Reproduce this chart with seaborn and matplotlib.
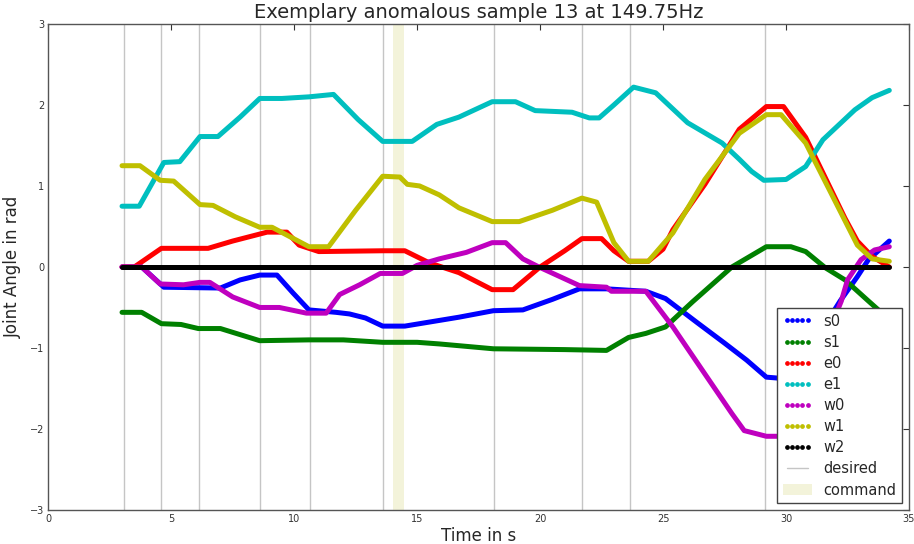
import numpy as np
import pandas as pd
import matplotlib
matplotlib.use('Agg')
import matplotlib.pyplot as plt
import seaborn as sns
from matplotlib.lines import Line2D
from matplotlib.patches import Patch

# ── Joint angle keypoints (time in s, angle in rad) ──
s0_t = [3.0, 3.8, 4.7, 7.0, 7.8, 8.6, 9.3, 9.95, 10.6, 11.7, 12.25, 12.9, 13.6, 14.5, 15.9,
        16.7, 18.1, 19.3, 20.5, 21.6, 22.7, 24.3, 25.1, 26.4, 27.5, 28.4, 29.2, 30.0, 31.0,
        32.2, 32.9, 33.35, 34.2]
s0_v = [0.0, 0.0, -0.25, -0.26, -0.16, -0.1, -0.1, -0.32, -0.53, -0.56, -0.58, -0.63, -0.73,
        -0.73, -0.66, -0.62, -0.54, -0.53, -0.4, -0.27, -0.27, -0.3, -0.39, -0.69, -0.94,
        -1.15, -1.36, -1.38, -1.0, -0.42, -0.12, 0.09, 0.32]

s1_t = [3.0, 3.8, 4.6, 5.4, 6.1, 7.0, 8.6, 10.6, 12.0, 13.6, 15.0, 15.9, 18.1, 21.0, 22.7,
        23.6, 24.3, 25.1, 26.2, 27.8, 29.2, 30.2, 30.8, 31.6, 32.4, 33.35, 34.2]
s1_v = [-0.56, -0.56, -0.7, -0.71, -0.76, -0.76, -0.91, -0.9, -0.9, -0.93, -0.93, -0.95,
        -1.01, -1.02, -1.03, -0.87, -0.82, -0.74, -0.43, 0.0, 0.25, 0.25, 0.19, -0.01,
        -0.16, -0.42, -0.65]

e0_t = [3.0, 3.5, 4.6, 6.5, 7.5, 8.9, 9.7, 10.2, 11.0, 13.6, 14.5, 15.5, 16.7, 18.05, 18.9,
        20.0, 21.0, 21.7, 22.5, 23.0, 23.6, 24.4, 25.0, 25.4, 26.7, 28.1, 29.2, 29.9, 30.8,
        31.6, 32.4, 32.9, 33.5, 34.2]
e0_v = [0.0, 0.0, 0.23, 0.23, 0.32, 0.43, 0.43, 0.27, 0.19, 0.2, 0.2, 0.05, -0.07, -0.28,
        -0.28, 0.0, 0.2, 0.35, 0.35, 0.2, 0.07, 0.07, 0.22, 0.46, 1.02, 1.7, 1.98, 1.98, 1.6,
        1.1, 0.6, 0.32, 0.13, 0.0]

e1_t = [3.0, 3.7, 4.7, 5.35, 6.17, 6.9, 7.8, 8.6, 9.5, 10.6, 11.6, 12.6, 13.6, 14.8, 15.8,
        16.7, 18.05, 19.0, 19.8, 21.3, 22.0, 22.4, 23.0, 23.8, 24.7, 26.0, 27.4, 28.1, 28.6,
        29.1, 30.0, 30.8, 31.5, 32.8, 33.5, 34.2]
e1_v = [0.75, 0.75, 1.29, 1.3, 1.61, 1.61, 1.85, 2.08, 2.08, 2.1, 2.13, 1.82, 1.55, 1.55,
        1.76, 1.85, 2.04, 2.04, 1.93, 1.91, 1.84, 1.84, 2.0, 2.22, 2.15, 1.78, 1.53, 1.33,
        1.18, 1.07, 1.08, 1.24, 1.57, 1.94, 2.09, 2.18]

w0_t = [3.0, 3.8, 4.55, 5.5, 6.17, 6.57, 7.5, 8.6, 9.4, 10.5, 11.3, 11.85, 12.66, 13.5, 14.4,
        15.0, 15.9, 17.0, 18.05, 18.6, 19.3, 19.95, 21.6, 22.7, 22.9, 24.3, 25.4, 26.7, 27.8,
        28.3, 29.2, 29.7, 30.3, 31.2, 32.25, 32.5, 33.05, 33.6, 34.2]
w0_v = [0.0, 0.0, -0.21, -0.22, -0.19, -0.19, -0.37, -0.5, -0.5, -0.57, -0.57, -0.34, -0.22,
        -0.08, -0.08, 0.02, 0.1, 0.18, 0.3, 0.3, 0.1, 0.0, -0.23, -0.25, -0.3, -0.3, -0.74,
        -1.32, -1.81, -2.02, -2.09, -2.09, -1.9, -1.2, -0.42, -0.16, 0.09, 0.21, 0.25]

w1_t = [3.0, 3.73, 4.55, 5.1, 6.17, 6.7, 7.6, 8.6, 9.1, 10.6, 11.4, 12.5, 13.6, 14.3, 14.6,
        15.1, 15.9, 16.7, 18.05, 19.15, 20.5, 21.7, 22.3, 23.0, 23.6, 24.4, 25.4, 26.7, 28.1,
        29.2, 29.8, 30.8, 31.6, 32.1, 32.9, 33.5, 34.2]
w1_v = [1.25, 1.25, 1.07, 1.06, 0.77, 0.76, 0.62, 0.49, 0.49, 0.25, 0.25, 0.7, 1.12, 1.11,
        1.02, 1.0, 0.89, 0.73, 0.56, 0.56, 0.7, 0.85, 0.8, 0.3, 0.07, 0.07, 0.42, 1.08, 1.65,
        1.88, 1.88, 1.53, 1.05, 0.75, 0.27, 0.1, 0.07]

w2_t = [3.0, 34.2]
w2_v = [0.0, 0.0]

joints = ['s0', 's1', 'e0', 'e1', 'w0', 'w1', 'w2']
# klasik matplotlib tek harfli renkler (seaborn bunları değiştirmesin diye RGB)
colors = [(0, 0, 1), (0, 0.5, 0), (1, 0, 0), (0, 0.75, 0.75),
          (0.75, 0, 0.75), (0.75, 0.75, 0), (0, 0, 0)]

desired_t = [3.1, 4.6, 6.13, 8.61, 10.63, 13.6, 18.12, 21.69, 23.66, 29.16]
command_start, command_end = 14.01, 14.46

# ── Long-form table for seaborn ──
series = {
    's0': (s0_t, s0_v), 's1': (s1_t, s1_v), 'e0': (e0_t, e0_v), 'e1': (e1_t, e1_v),
    'w0': (w0_t, w0_v), 'w1': (w1_t, w1_v), 'w2': (w2_t, w2_v),
}
frames = []
for name in joints:
    t, v = series[name]
    frames.append(pd.DataFrame({'joint': name, 't': t, 'angle': v}))
df = pd.concat(frames, ignore_index=True)

sns.set_theme(style='white')
plt.rcParams['font.family'] = ['DejaVu Sans']

fig = plt.figure(figsize=(9.14, 5.44), dpi=100)
ax = fig.add_axes([0.0528, 0.0625, 0.9417, 0.8935])

ax.axvspan(command_start, command_end, color='#f3f3da', lw=0, zorder=0)
for x in desired_t:
    ax.axvline(x, color='0.55', lw=1, alpha=0.5, zorder=1)

sns.lineplot(data=df, x='t', y='angle', hue='joint', hue_order=joints,
             palette=dict(zip(joints, colors)), estimator=None, sort=False,
             lw=3.6, legend=False, ax=ax, zorder=2)

ax.set_xlim(0, 35)
ax.set_ylim(-3, 3)
ax.set_xticks(range(0, 36, 5))
ax.set_yticks(range(-3, 4))
ax.tick_params(direction='in', top=True, right=True, length=4, width=0.8,
               labelsize=7, colors='#333333', pad=3)
for sp in ax.spines.values():
    sp.set_color('#555555')
    sp.set_linewidth(1.0)

ax.set_title('Exemplary anomalous sample 13 at 149.75Hz', fontsize=14, pad=4)
ax.set_xlabel('Time in s', fontsize=12, labelpad=2)
ax.set_ylabel('Joint Angle in rad', fontsize=12, labelpad=6)

handles = [Line2D([], [], color=c, marker='o', ms=2.4, ls='none') for c in colors]
handles.append(Line2D([], [], color='0.55', lw=1, alpha=0.5))
handles.append(Patch(facecolor='#f3f3da', edgecolor='none'))
leg = ax.legend(handles, joints + ['desired', 'command'], loc='lower right',
                numpoints=5, fontsize=10.5, labelspacing=0.42, handlelength=2.0,
                borderaxespad=0.45, fancybox=False, framealpha=1.0, borderpad=0.4)
leg.get_frame().set_edgecolor('#444444')
leg.get_frame().set_linewidth(1.0)

fig.savefig('out.png', dpi=100)
